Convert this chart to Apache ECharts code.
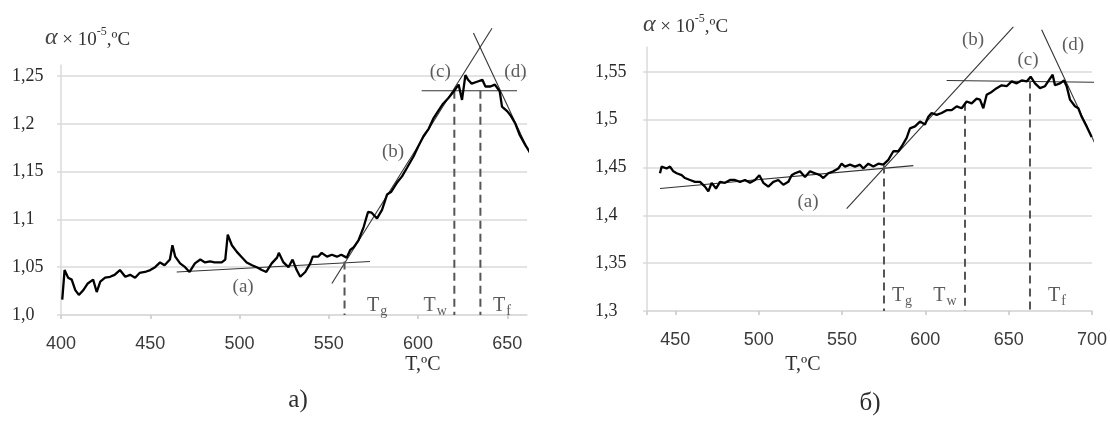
<!DOCTYPE html>
<html><head><meta charset="utf-8">
<script src="https://cdn.jsdelivr.net/npm/echarts@6/dist/echarts.min.js"></script>
<style>html,body{margin:0;padding:0;background:#fff}#c{width:1110px;height:424px}</style>
</head><body><div id="c"></div>
<script>
// ---------- data: chart a) ----------
const leftT=[400.7,402,404,406,408,410,412.5,415,418,420,422,424.7,427.5,430,433,436,438.7,441.5,444,447,450,452.7,455.5,458,461,462.4,464,466.7,469.5,472,475,478,480.7,483.5,486,490,492,493.4,495.7,498.5,501,504,507,509.7,512.5,515,518,521,522,524.6,527.4,529.7,532,534,536.8,539.6,541,544,546,549,551.7,554.5,557,560,562,564,566.6,569.5,572,574,577,579.8,582.6,585,588,591,593.8,597.5,600,603,606,608.7,611.5,614,617,620,622.7,624.6,626.5,628,630,633,636,637.7,640.5,643,645.7,647,650,651.7,654.5,657,660,663];
const leftV=[1.016,1.047,1.039,1.037,1.026,1.021,1.026,1.033,1.037,1.024,1.035,1.039,1.040,1.042,1.047,1.040,1.042,1.039,1.044,1.045,1.047,1.050,1.055,1.052,1.058,1.073,1.061,1.054,1.050,1.045,1.054,1.058,1.055,1.056,1.055,1.055,1.058,1.084,1.073,1.066,1.061,1.055,1.052,1.050,1.047,1.045,1.054,1.060,1.065,1.055,1.050,1.058,1.047,1.040,1.045,1.054,1.061,1.061,1.065,1.061,1.063,1.061,1.063,1.060,1.068,1.071,1.078,1.092,1.108,1.107,1.101,1.110,1.126,1.129,1.138,1.145,1.154,1.166,1.176,1.187,1.195,1.206,1.214,1.221,1.227,1.234,1.241,1.225,1.251,1.246,1.242,1.244,1.246,1.239,1.239,1.241,1.234,1.218,1.213,1.209,1.200,1.188,1.178,1.169];
const leftTanA=[[464.8,1.045],[573,1.056]];
const leftTanB=[[551.7,1.033],[641.4,1.300]];
const leftTanC=[[602,1.2345],[655.4,1.2345]];
const leftTanD=[[631,1.295],[664.8,1.160]];
const leftMarkT=[558.8,620.3,634.9];
const leftMarkTop=[1.056,1.2345,1.2345];
const leftNotes=[['(a)',502,1.029],['(b)',586,1.1705],['(c)',612.4,1.254],['(d)',654.5,1.254]];
const leftSubs=[['g',577,1.0105],['w',609.6,1.0105],['f',647,1.0105]];
const leftXTicks=['400','450','500','550','600','650'];
const leftYTicks=['1,0','1,05','1,1','1,15','1,2','1,25'];

// ---------- data: chart б) ----------
const rightT=[440.8,441.8,444.8,446.8,448.8,450.8,453.8,455.8,458.8,461.8,464.8,467.8,469.8,471.8,474.4,476.8,479.8,482.8,485.8,488.8,491.8,494.8,497.8,500.4,502.8,505.8,508.8,511.8,514.8,517.8,519.8,521.8,524.8,527.8,530.8,533.8,536.8,538.8,541.8,544.8,547.8,549.8,551.8,554.8,557.8,560.8,562.8,565.8,568.8,571.8,574.8,577.8,580.8,583.8,585.8,588.8,590.8,593.8,596.8,599.8,601.8,603.8,606.8,609.8,612.8,615.8,618.8,621.8,624.8,627.8,630.8,632.8,634.8,636.8,639.8,642.8,645.8,648.8,651.8,654.8,657.8,660.8,663.2,665.8,668.8,671.8,674.8,676.4,677.8,680.8,683.2,684.8,686.8,689.8,691.8,693.8,696.8,699.8];
const rightV=[1.444,1.451,1.449,1.451,1.446,1.444,1.442,1.439,1.437,1.435,1.435,1.430,1.425,1.434,1.428,1.435,1.434,1.437,1.437,1.435,1.437,1.434,1.437,1.442,1.434,1.430,1.435,1.437,1.432,1.435,1.442,1.444,1.446,1.440,1.446,1.444,1.442,1.439,1.444,1.446,1.449,1.454,1.451,1.453,1.451,1.453,1.449,1.454,1.451,1.454,1.453,1.458,1.467,1.467,1.472,1.481,1.491,1.493,1.498,1.495,1.503,1.507,1.505,1.507,1.510,1.510,1.514,1.512,1.519,1.517,1.522,1.521,1.512,1.526,1.529,1.533,1.536,1.535,1.540,1.538,1.541,1.540,1.545,1.538,1.533,1.535,1.543,1.547,1.536,1.538,1.541,1.535,1.521,1.514,1.512,1.503,1.493,1.482];
const rightTanA=[[440.8,1.428],[592.8,1.452]];
const rightTanB=[[552.8,1.407],[652.8,1.597]];
const rightTanC=[[612.8,1.541],[704.8,1.539]];
const rightTanD=[[669.8,1.594],[708.8,1.449]];
const rightMarkT=[575.2,623.8,662.8];
const rightMarkTop=[1.452,1.5176,1.541];
const rightNotes=[['(a)',529.6,1.414],['(b)',628.6,1.5835],['(c)',661.6,1.5626],['(d)',688.6,1.578]];
const rightSubs=[['g',586,1.3167],['w',611.8,1.3167],['f',679,1.3167]];
const rightXTicks=['450','500','550','600','650','700'];
const rightYTicks=['1,3','1,35','1,4','1,45','1,5','1,55'];

// ---------- build ----------
const zip=(a,b)=>a.map((x,i)=>[x,b[i]]);
const SERIF='"Liberation Serif","DejaVu Serif",serif';
const SANS='"Liberation Sans",Arial,sans-serif';
const GRID='#dadada';
function xAxisCfg(gi,min,max,first,ticks,showMax,extra){
  return Object.assign({type:'value',gridIndex:gi,min:min,max:max,
    axisLine:{show:true,lineStyle:{color:GRID,width:1.5}},
    axisTick:{show:true,length:4,lineStyle:{color:'#c8c8c8',width:1.5}},
    splitLine:{show:false},
    axisLabel:{showMinLabel:true,showMaxLabel:showMax,margin:20,fontFamily:SANS,fontSize:18,color:'#3a3a3a',
      formatter:v=>{const k=(v-first)/50;return Math.abs(k-Math.round(k))<1e-6?(ticks[Math.round(k)]||''):'';}}},extra);
}
function yAxisCfg(gi,min,max,ticks,margin){
  return {type:'value',gridIndex:gi,min:min,max:max,interval:0.05,
    axisLine:{show:true,lineStyle:{color:GRID,width:1.5}},
    axisTick:{show:true,length:4,lineStyle:{color:GRID,width:1.5}},
    splitLine:{show:true,showMaxLine:false,lineStyle:{color:GRID,width:1.5}},
    axisLabel:{showMaxLabel:false,align:'left',margin:margin,fontFamily:SERIF,fontSize:18,color:'#2a2a2a',
      formatter:v=>ticks[Math.round((v-min)/0.05)]||''}};
}
function lineS(gi,data,opt){
  return Object.assign({type:'line',xAxisIndex:gi,yAxisIndex:gi,data:data,showSymbol:false,symbol:'none',
    clip:false,animation:false,silent:true},opt);
}
function chartSeries(gi,T,V,tans,markT,markTop,notes,subs,yMin){
  const s=[];
  tans.forEach(t=>s.push(lineS(gi,t,{lineStyle:{color:'#333',width:1.1}})));
  markT.forEach((t,i)=>s.push(lineS(gi,[[t,markTop[i]],[t,yMin]],{lineStyle:{color:'#555',width:2,type:[8,5]}})));
  s.push(lineS(gi,zip(T,V),{lineStyle:{color:'#000',width:2.3}}));
  s.push({type:'scatter',xAxisIndex:gi,yAxisIndex:gi,symbolSize:0,clip:false,animation:false,silent:true,
    data:notes.map(n=>({value:[n[1],n[2]],name:n[0]})),
    label:{show:true,position:'inside',formatter:p=>p.name,fontFamily:SERIF,fontSize:19,color:'#333'}});
  s.push({type:'scatter',xAxisIndex:gi,yAxisIndex:gi,symbolSize:0,clip:false,animation:false,silent:true,
    data:subs.map(n=>({value:[n[1],n[2]],name:n[0]})),
    label:{show:true,position:'inside',formatter:p=>'{t|T}{s|'+p.name+'}',
      rich:{t:{fontFamily:SERIF,fontSize:20,color:'#333',lineHeight:22,verticalAlign:'bottom'},
            s:{fontFamily:SERIF,fontSize:14,color:'#333',lineHeight:22,verticalAlign:'bottom',padding:[0,0,-2,1]}}}});
  return s;
}
function titleText(x,y){
  return {type:'text',x:x,y:y,silent:true,style:{
    text:'{a|α}{b| × 10}{s|-5}{b|,ºC}',verticalAlign:'middle',
    rich:{a:{fontFamily:SERIF,fontStyle:'italic',fontSize:24,fill:'#444',lineHeight:24,verticalAlign:'bottom'},
          b:{fontFamily:SERIF,fontSize:19,fill:'#333',lineHeight:24,verticalAlign:'bottom'},
          s:{fontFamily:SERIF,fontSize:12,fill:'#333',lineHeight:24,verticalAlign:'top'}}}};
}
function plainText(t,x,y,size){
  return {type:'text',x:x,y:y,silent:true,style:{text:t,align:'center',verticalAlign:'middle',
    fontFamily:SERIF,fontSize:size,fill:'#2e2e2e'}};
}

const chart=echarts.init(document.getElementById('c'),null,{renderer:'canvas'});
chart.setOption({
  animation:false,
  backgroundColor:'#fff',
  grid:[{left:61,top:65,width:466,height:250},{left:647,top:47,width:445,height:264}],
  xAxis:[xAxisCfg(0,400,661,400,leftXTicks,false,{interval:50}),
         xAxisCfg(1,433,700,450,rightXTicks,true,{minInterval:50,maxInterval:50,splitNumber:5})],
  yAxis:[yAxisCfg(0,1.0,1.2615,leftYTicks,49),yAxisCfg(1,1.3,1.576,rightYTicks,52)],
  series:[].concat(
    chartSeries(0,leftT,leftV,[leftTanA,leftTanB,leftTanC,leftTanD],leftMarkT,leftMarkTop,leftNotes,leftSubs,1.0),
    chartSeries(1,rightT,rightV,[rightTanA,rightTanB,rightTanC,rightTanD],rightMarkT,rightMarkTop,rightNotes,rightSubs,1.3)),
  graphic:[titleText(45,38),titleText(643,25),
    plainText('T,ºC',423,365,20),plainText('T,ºC',803,365,20),
    plainText('а)',298,400,25),plainText('б)',870,403,25)]
});
</script></body></html>
